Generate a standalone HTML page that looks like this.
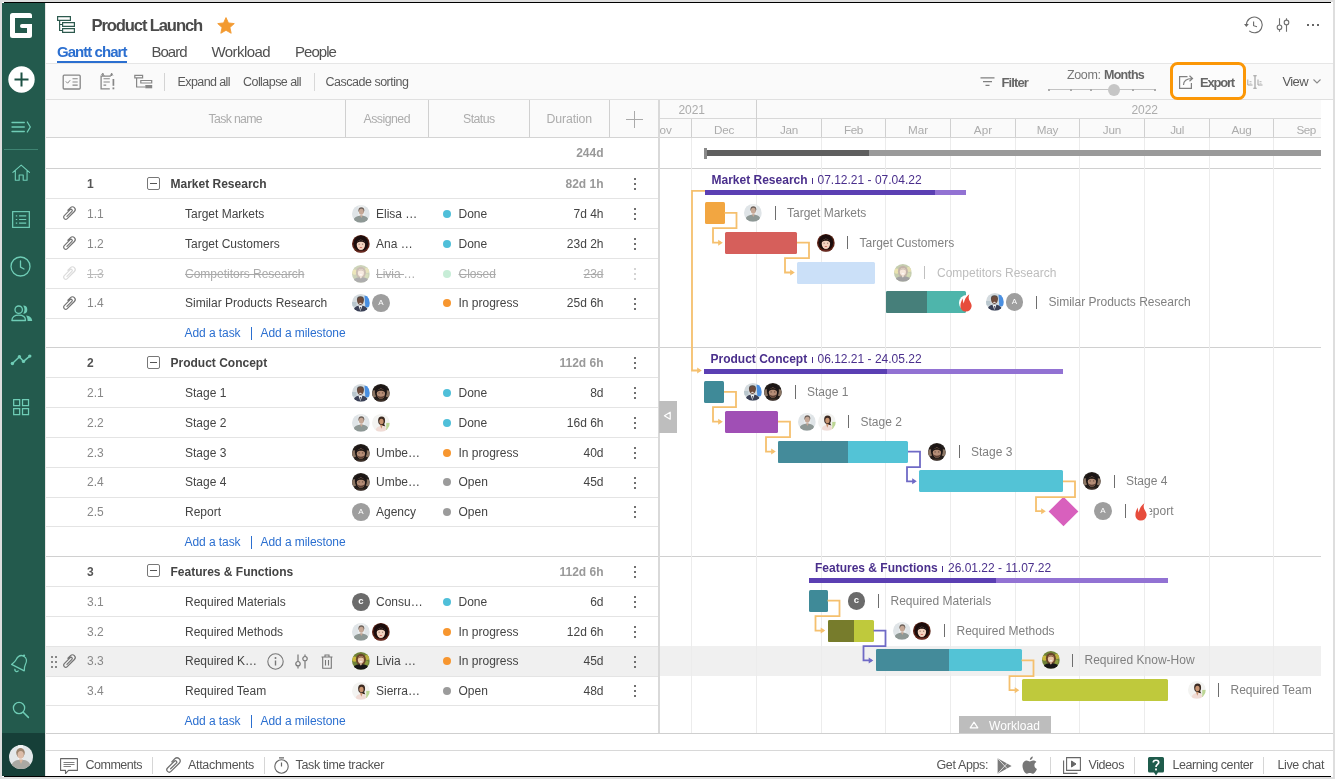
<!DOCTYPE html><html><head><meta charset="utf-8"><title>Product Launch</title><style>
*{box-sizing:border-box;margin:0;padding:0}
html,body{width:1335px;height:779px;overflow:hidden}
body{background:#dedede;font-family:"Liberation Sans",sans-serif;position:relative;color:#444}
.abs{position:absolute}
.t{position:absolute;white-space:nowrap;line-height:1;transform-origin:0 50%}
#app{position:absolute;left:2px;top:2px;width:1331px;height:775px;background:#fff;overflow:hidden}#app:before,#app:after{content:'';position:absolute;left:2px;width:1327px;height:1px;background:#000}#app:before{top:0}#app:after{bottom:0}
#page{position:absolute;left:0;top:0;width:1335px;height:779px;overflow:hidden;will-change:transform}
.hl{position:absolute;height:1px;background:#e3e3e3}
.vl{position:absolute;width:1px;background:#dcdcdc}
svg{position:absolute;overflow:visible}
</style></head><body><div id="app"></div><div id="page"><svg width="0" height="0" style="left:0;top:0"><defs><filter id="bl" x="-20%" y="-20%" width="140%" height="140%"><feGaussianBlur stdDeviation="0.550"/></filter></defs></svg><div class="abs" style="left:2px;top:3px;width:43px;height:773px;background:#235a4d;"></div><div class="abs" style="left:2px;top:733px;width:43px;height:43px;background:#163f38;"></div><svg style="left:10px;top:13px" width="22" height="25" viewBox="0 0 22 25"><path d="M2.5 0H19.5A2.5 2.5 0 0 1 22 2.500V5H5V20H17V15H12A2 2 0 0 1 10 13A2 2 0 0 1 12 11H22V22.5A2.5 2.5 0 0 1 19.5 25H2.5A2.500 2.500 0 0 1 0 22.500V2.500A2.500 2.500 0 0 1 2.500 0Z" fill="#fff"/></svg><svg style="left:8px;top:66px" width="27" height="27" viewBox="0 0 27 27"><circle cx="13.5" cy="13.5" r="13.2" fill="#fff"/><path d="M13.5 6.500V20.500M6.500 13.500H20.500" stroke="#1d5144" stroke-width="2" fill="none"/></svg><svg style="left:11px;top:120px" width="21" height="14" viewBox="0 0 21 14"><path d="M1 2.500H13.300M1 7H13.300M1 11.500H13.300M16.300 2L19.300 7L16.300 12" stroke="#6fcdb6" stroke-width="1.300" fill="none" stroke-linecap="round" stroke-linejoin="round"/></svg><div class="abs" style="left:4px;top:149px;width:34px;height:1px;background:#3e8472;"></div><svg style="left:11.700px;top:163.500px" width="18.400" height="17.600" viewBox="0 0 21 20"><path d="M1 9.500L10.500 1.200L20 9.500M3.800 7.500V18.500H8.200V12.500H12.800V18.500H17.200V7.500" stroke="#6fcdb6" stroke-width="1.300" fill="none" stroke-linejoin="round" stroke-linecap="round"/></svg><svg style="left:12px;top:210.500px" width="18" height="17" viewBox="0 0 19 19" preserveAspectRatio="none"><rect x="0.700" y="0.700" width="17.600" height="17.600" stroke="#6fcdb6" stroke-width="1.300" fill="none"/><path d="M4 5.500H5.500M7.500 5.500H15M4 9.500H5.500M7.500 9.500H15M4 13.500H5.500M7.500 13.500H15" stroke="#6fcdb6" stroke-width="1.300"/></svg><svg style="left:10.400px;top:256.200px" width="21" height="21" viewBox="0 0 21 21"><circle cx="10.500" cy="10.500" r="9.500" stroke="#6fcdb6" stroke-width="1.300" fill="none"/><path d="M10.500 5V11L14 13" stroke="#6fcdb6" stroke-width="1.300" fill="none" stroke-linecap="round"/></svg><svg style="left:10.500px;top:305px" width="22" height="17" viewBox="0 0 22 17"><circle cx="7.700" cy="4.700" r="3.700" stroke="#6fcdb6" stroke-width="1.300" fill="none"/><path d="M0.900 15.500C0.900 12 3.500 10.200 7.700 10.200S14.500 12 14.500 15.500Z" stroke="#6fcdb6" stroke-width="1.300" fill="none" stroke-linejoin="round"/><path d="M12.200 0.600A4.100 4.100 0 0 1 12.200 8.800A8 8 0 0 0 12.200 0.600Z" fill="#6fcdb6"/><path d="M15 10.400C18.800 10.800 21.200 12.600 21.200 16.100H16.600C16.600 13.800 16.100 11.800 15 10.400Z" fill="#6fcdb6"/></svg><svg style="left:10px;top:352px" width="23" height="15" viewBox="0 0 23 15"><path d="M2.400 11.500L9.400 4.800L13.500 9.400L19.800 4.100" stroke="#6fcdb6" stroke-width="1.500" fill="none"/><circle cx="2.400" cy="11.500" r="1.700" fill="#6fcdb6"/><circle cx="9.400" cy="4.800" r="1.700" fill="#6fcdb6"/><circle cx="13.500" cy="9.400" r="1.700" fill="#6fcdb6"/><circle cx="19.800" cy="4.100" r="1.700" fill="#6fcdb6"/></svg><svg style="left:13px;top:399.200px" width="16.200" height="16.200" viewBox="0 0 17 17"><path d="M0.700 0.700H7V7H0.700ZM10 0.700H16.300V7H10ZM0.700 10H7V16.300H0.700ZM10 10H16.300V16.300H10Z" stroke="#6fcdb6" stroke-width="1.300" fill="none"/></svg><svg style="left:10.500px;top:653px" width="19" height="20" viewBox="0 0 20 21"><g transform="rotate(27 10 10)"><path d="M10 2.500C6 2.500 4.500 6 4.500 9.500C4.500 13 2.500 15 2.500 16H17.500C17.500 15 15.500 13 15.500 9.500C15.500 6 14 2.500 10 2.500Z" stroke="#6fcdb6" stroke-width="1.300" fill="none" stroke-linejoin="round"/><circle cx="10" cy="1.800" r="1.200" fill="#6fcdb6"/><path d="M8 18.500A2 2 0 0 0 12 18.500" stroke="#6fcdb6" stroke-width="1.300" fill="none"/></g></svg><svg style="left:12.300px;top:701.300px" width="17.800" height="17.800" viewBox="0 0 19 19"><circle cx="7.500" cy="7.500" r="6" stroke="#6fcdb6" stroke-width="1.400" fill="none"/><path d="M12 12L17.500 17.500" stroke="#6fcdb6" stroke-width="1.600" stroke-linecap="round"/></svg><svg style="left:9px;top:745px" width="24" height="24" viewBox="0 0 24 24"><defs><clipPath id="cu"><circle cx="12" cy="12" r="12"/></clipPath></defs><g clip-path="url(#cu)"><rect width="24" height="24" fill="#e4e8ea"/><g filter="url(#bl)"><rect x="9" y="0" width="5" height="14" fill="#f4f5f6"/><ellipse cx="11.500" cy="7.800" rx="4.300" ry="4.800" fill="#9c8570"/><ellipse cx="11.700" cy="9.800" rx="3.100" ry="3.900" fill="#dcbca8"/><path d="M2 24C2 17 6 14.500 12 15C18 14.500 22 17 22 24Z" fill="#aaa9a3"/><path d="M10 14.500L12 19L14 14.500Z" fill="#d9b59c"/></g></g></svg><div class="abs" style="left:45px;top:3px;width:1px;height:773px;background:#e6e6e6;"></div><svg style="left:56.600px;top:16px" width="19" height="17" viewBox="0 0 19 17"><path d="M0.600 0.600H13.400V4.400H0.600ZM5.600 6.600H17.400V10.400H5.600ZM5.600 12.600H17.400V16.400H5.600ZM2.600 4.400V14.500H5.600M2.600 8.500H5.600" stroke="#2d5a4e" stroke-width="1.200" fill="none"/></svg><span class="t" style="left:91.5px;top:17.9px;font-size:16.6px;font-weight:700;color:#4a4a4a;letter-spacing:-1.129px;">Product Launch</span><svg style="left:216.500px;top:16.500px" width="18" height="17" viewBox="0 0 24 23"><path d="M12 0.800L15.300 8L23.200 8.900L17.300 14.200L19 22L12 18L5 22L6.700 14.200L0.800 8.900L8.700 8Z" fill="#f39a30" stroke="#f39a30" stroke-width="1.200" stroke-linejoin="round"/></svg><span class="t" style="left:57px;top:44px;font-size:15px;font-weight:700;color:#2b6fd0;letter-spacing:-0.956px;">Gantt chart</span><span class="t" style="left:151.5px;top:44px;font-size:15px;font-weight:400;color:#505050;letter-spacing:-1.006px;">Board</span><span class="t" style="left:211.5px;top:44px;font-size:15px;font-weight:400;color:#505050;letter-spacing:-0.574px;">Workload</span><span class="t" style="left:295px;top:44px;font-size:15px;font-weight:400;color:#505050;letter-spacing:-0.953px;">People</span><div class="abs" style="left:57px;top:61px;width:70px;height:2px;background:#2b6fd0;"></div><svg style="left:1243px;top:15px" width="20" height="20" viewBox="0 0 20 20"><path d="M3.40 9.90A7.9 7.9 0 1 1 6.22 15.95" stroke="#6a6a6a" stroke-width="1.100" fill="none"/><path d="M1.00 9.00H5.80L3.40 11.90Z" fill="#6a6a6a"/><path d="M10.60 6.50V10.70L14.00 11.80" stroke="#6a6a6a" stroke-width="1.100" fill="none"/></svg><svg style="left:1276px;top:18px" width="14" height="15" viewBox="0 0 14 15"><path d="M3.500 0.300V6.900M3.500 11.700V13.800M10.500 0.300V2M10.500 6.800V13.800" stroke="#707070" stroke-width="1.100"/><circle cx="3.500" cy="9.300" r="2.300" stroke="#707070" stroke-width="1.100" fill="#fff"/><circle cx="10.500" cy="4.400" r="2.300" stroke="#707070" stroke-width="1.100" fill="#fff"/></svg><div class="abs" style="left:1307px;top:24px;width:2px;height:2px;background:#666;"></div><div class="abs" style="left:1312px;top:24px;width:2px;height:2px;background:#666;"></div><div class="abs" style="left:1317px;top:24px;width:2px;height:2px;background:#666;"></div><div class="abs" style="left:46px;top:63px;width:1287px;height:37px;background:#fafafa;border-top:1px solid #e6e6e6;border-bottom:1px solid #e0e0e0"></div><svg style="left:62px;top:74px" width="20" height="17" viewBox="0 0 20 17"><rect x="1.200" y="1.200" width="17" height="13.800" rx="1" stroke="#878787" stroke-width="1.300" fill="none"/><path d="M3.800 7.400L5.600 9.200L8.200 6.200" stroke="#878787" stroke-width="1" fill="none"/><path d="M10.500 4.800H15.700M10.500 8H15.700M10.500 11.100H15.700" stroke="#878787" stroke-width="1.100" fill="none"/></svg><svg style="left:100px;top:72px" width="16" height="19" viewBox="0 0 16 19"><path d="M10.800 4.100H1.100V16.800H9.800M2.800 1.200V4.100M11.600 1.200V4.100" stroke="#878787" stroke-width="1.300" fill="none"/><path d="M1.100 2.800L2.800 1.200L4.400 4.100M10 4.100L11.600 1.200L13 3.500" stroke="#878787" stroke-width="0.800" fill="none"/><path d="M3.500 6.800H9.800M3.500 10H9.800M3.500 13.100H6.200" stroke="#878787" stroke-width="1.100" fill="none"/><path d="M13.400 7V13.800" stroke="#878787" stroke-width="1.700"/><rect x="12.500" y="15.400" width="1.800" height="1.900" fill="#878787"/></svg><svg style="left:134px;top:74px" width="19" height="16" viewBox="0 0 19 16"><path d="M0.800 1.300H8.600V3.900H0.800ZM6.800 6.500H17.700V9H6.800ZM2.600 3.900V13H11.300" stroke="#878787" stroke-width="1.200" fill="none"/><rect x="11.300" y="11" width="6.900" height="3.300" fill="#878787"/></svg><div class="abs" style="left:164px;top:73px;width:1px;height:18px;background:#d4d4d4;"></div><span class="t" style="left:177.5px;top:75.95px;font-size:12.5px;font-weight:400;color:#5a5a5a;letter-spacing:-0.588px;">Expand all</span><span class="t" style="left:243px;top:75.95px;font-size:12.5px;font-weight:400;color:#5a5a5a;letter-spacing:-0.552px;">Collapse all</span><div class="abs" style="left:313.5px;top:73px;width:1px;height:18px;background:#d8d8d8;"></div><span class="t" style="left:325.5px;top:75.95px;font-size:12.5px;font-weight:400;color:#5a5a5a;letter-spacing:-0.489px;">Cascade sorting</span><svg style="left:979.500px;top:76.500px" width="15" height="10" viewBox="0 0 15 10"><path d="M0.500 0.800H14.500M3 4.600H12M5.500 8.400H9.500" stroke="#808080" stroke-width="1.200"/></svg><span class="t" style="left:1001.5px;top:75.8px;font-size:13px;font-weight:700;color:#666;letter-spacing:-0.883px;">Filter</span><span class="t" style="left:1067px;top:68.55px;font-size:12.5px;font-weight:400;color:#777;letter-spacing:-0.388px;">Zoom:</span><span class="t" style="left:1104px;top:68.55px;font-size:12.5px;font-weight:700;color:#666;letter-spacing:-0.740px;">Months</span><div class="abs" style="left:1049px;top:89px;width:106px;height:1px;background:#c4c4c4;"></div><div class="abs" style="left:1048px;top:88.5px;width:2px;height:2px;background:#aaa;"></div><div class="abs" style="left:1069.5px;top:88.5px;width:2px;height:2px;background:#aaa;"></div><div class="abs" style="left:1090px;top:88.5px;width:2px;height:2px;background:#aaa;"></div><div class="abs" style="left:1132px;top:88.5px;width:2px;height:2px;background:#aaa;"></div><div class="abs" style="left:1153.5px;top:88.5px;width:2px;height:2px;background:#aaa;"></div><div class="abs" style="left:1108px;top:83.500px;width:12px;height:12px;border-radius:50%;background:#c6c6c6"></div><div class="abs" style="left:1170px;top:62px;width:76px;height:38px;border:3.600px solid #fb9707;border-radius:7.500px;background:#fcfcfc"></div><svg style="left:1179px;top:75px" width="15" height="14" viewBox="0 0 15 14"><path d="M8.500 1.600H0.600V13.400H12.400V8" stroke="#808080" stroke-width="1.200" fill="none"/><path d="M4.500 10C4.500 6 7.500 3.500 13 3.500M10.500 0.800L13.500 3.500L10.500 6.300" stroke="#808080" stroke-width="1.200" fill="none"/></svg><span class="t" style="left:1200px;top:75.8px;font-size:13px;font-weight:700;color:#666;letter-spacing:-1.195px;">Export</span><svg style="left:1247px;top:75px" width="16" height="14" viewBox="0 0 16 14"><path d="M8 0.800V13.200M6.300 0.800H9.700M6.300 13.200H9.700" stroke="#9a9a9a" stroke-width="1.100" fill="none"/><path d="M0.800 4.500V10H5.500M11 4.500V10H15.500" stroke="#a4a4a4" stroke-width="1" fill="none"/><path d="M2.500 6.500H4.500M2.500 8.200H4.500M12.500 6.500H14.500M12.500 8.200H14.500" stroke="#b4b4b4" stroke-width="0.800"/></svg><span class="t" style="left:1282.5px;top:75px;font-size:13px;font-weight:400;color:#5a5a5a;letter-spacing:-0.613px;">View</span><svg style="left:1313px;top:79px" width="8" height="5" viewBox="0 0 8 5"><path d="M0.500 0.500L4 4L7.500 0.500" stroke="#8a8a8a" stroke-width="1.100" fill="none"/></svg><div class="abs" style="left:46px;top:100px;width:1275px;height:38px;background:#fafafa;"></div><div class="abs" style="left:46px;top:137px;width:1275px;height:1px;background:#d4d4d4;"></div><div class="abs" style="left:345px;top:100px;width:1px;height:37px;background:#d0d0d0;"></div><div class="abs" style="left:428px;top:100px;width:1px;height:37px;background:#d0d0d0;"></div><div class="abs" style="left:529px;top:100px;width:1px;height:37px;background:#d0d0d0;"></div><div class="abs" style="left:609px;top:100px;width:1px;height:37px;background:#d0d0d0;"></div><span class="t" style="left:208.5px;top:112.85px;font-size:12.3px;font-weight:400;color:#acacac;letter-spacing:-0.663px;">Task name</span><span class="t" style="left:363.5px;top:112.85px;font-size:12.3px;font-weight:400;color:#acacac;letter-spacing:-0.512px;">Assigned</span><span class="t" style="left:463px;top:112.85px;font-size:12.3px;font-weight:400;color:#acacac;letter-spacing:-0.562px;">Status</span><span class="t" style="left:546.5px;top:112.85px;font-size:12.3px;font-weight:400;color:#acacac;letter-spacing:-0.123px;">Duration</span><svg style="left:626px;top:111px" width="17" height="17" viewBox="0 0 17 17"><path d="M8.500 0V17M0 8.500H17" stroke="#aaa" stroke-width="1"/></svg><div class="abs" style="left:660px;top:118px;width:661px;height:1px;background:#d8d8d8;"></div><div class="abs" style="left:756px;top:100px;width:1px;height:19px;background:#d0d0d0;"></div><span class="t" style="left:678.5px;top:104px;font-size:12px;font-weight:400;color:#acacac;letter-spacing:-0.051px;">2021</span><span class="t" style="left:1131.5px;top:104px;font-size:12px;font-weight:400;color:#acacac;letter-spacing:-0.051px;">2022</span><div class="abs" style="left:691px;top:119px;width:1px;height:18px;background:#d0d0d0;"></div><div class="abs" style="left:756px;top:119px;width:1px;height:18px;background:#d0d0d0;"></div><div class="abs" style="left:821px;top:119px;width:1px;height:18px;background:#d0d0d0;"></div><div class="abs" style="left:885px;top:119px;width:1px;height:18px;background:#d0d0d0;"></div><div class="abs" style="left:950px;top:119px;width:1px;height:18px;background:#d0d0d0;"></div><div class="abs" style="left:1015px;top:119px;width:1px;height:18px;background:#d0d0d0;"></div><div class="abs" style="left:1079px;top:119px;width:1px;height:18px;background:#d0d0d0;"></div><div class="abs" style="left:1144px;top:119px;width:1px;height:18px;background:#d0d0d0;"></div><div class="abs" style="left:1209px;top:119px;width:1px;height:18px;background:#d0d0d0;"></div><div class="abs" style="left:1273px;top:119px;width:1px;height:18px;background:#d0d0d0;"></div><span class="t" style="left:713.895px;top:124.15px;font-size:11.7px;font-weight:400;color:#acacac;letter-spacing:-0.196px;">Dec</span><span class="t" style="left:780.07px;top:124.15px;font-size:11.7px;font-weight:400;color:#acacac;letter-spacing:-0.333px;">Jan</span><span class="t" style="left:844.1px;top:124.15px;font-size:11.7px;font-weight:400;color:#acacac;letter-spacing:-0.447px;">Feb</span><span class="t" style="left:907.895px;top:124.15px;font-size:11.7px;font-weight:400;color:#acacac;letter-spacing:0.023px;">Mar</span><span class="t" style="left:973.835px;top:124.15px;font-size:11.7px;font-weight:400;color:#acacac;letter-spacing:0.042px;">Apr</span><span class="t" style="left:1036.69px;top:124.15px;font-size:11.7px;font-weight:400;color:#acacac;letter-spacing:-0.158px;">May</span><span class="t" style="left:1102.84px;top:124.15px;font-size:11.7px;font-weight:400;color:#acacac;letter-spacing:-0.176px;">Jun</span><span class="t" style="left:1170.18px;top:124.15px;font-size:11.7px;font-weight:400;color:#acacac;letter-spacing:-0.441px;">Jul</span><span class="t" style="left:1231.39px;top:124.15px;font-size:11.7px;font-weight:400;color:#acacac;letter-spacing:-0.196px;">Aug</span><span class="t" style="left:1296.5px;top:124.15px;font-size:11.7px;font-weight:400;color:#acacac;letter-spacing:-0.509px;">Sep</span><div class="abs" style="left:660px;top:119px;width:30px;height:18px;overflow:hidden"><span class="t" style="left:-9px;top:5.15px;font-size:11.7px;font-weight:400;color:#acacac;letter-spacing:0.068px;">Nov</span></div><div class="abs" style="left:46px;top:646px;width:1275px;height:30px;background:#f0f0f0;"></div><div class="abs" style="left:46px;top:168px;width:1275px;height:1px;background:#d0d0d0;"></div><div class="abs" style="left:46px;top:198px;width:614px;height:1px;background:#e4e4e4;"></div><div class="abs" style="left:46px;top:228px;width:614px;height:1px;background:#e4e4e4;"></div><div class="abs" style="left:46px;top:258px;width:614px;height:1px;background:#e4e4e4;"></div><div class="abs" style="left:46px;top:288px;width:614px;height:1px;background:#e4e4e4;"></div><div class="abs" style="left:46px;top:318px;width:614px;height:1px;background:#e4e4e4;"></div><div class="abs" style="left:46px;top:347px;width:1275px;height:1px;background:#d0d0d0;"></div><div class="abs" style="left:46px;top:377px;width:614px;height:1px;background:#e4e4e4;"></div><div class="abs" style="left:46px;top:407px;width:614px;height:1px;background:#e4e4e4;"></div><div class="abs" style="left:46px;top:437px;width:614px;height:1px;background:#e4e4e4;"></div><div class="abs" style="left:46px;top:467px;width:614px;height:1px;background:#e4e4e4;"></div><div class="abs" style="left:46px;top:497px;width:614px;height:1px;background:#e4e4e4;"></div><div class="abs" style="left:46px;top:526px;width:614px;height:1px;background:#e4e4e4;"></div><div class="abs" style="left:46px;top:556px;width:1275px;height:1px;background:#d0d0d0;"></div><div class="abs" style="left:46px;top:586px;width:614px;height:1px;background:#e4e4e4;"></div><div class="abs" style="left:46px;top:616px;width:614px;height:1px;background:#e4e4e4;"></div><div class="abs" style="left:46px;top:646px;width:614px;height:1px;background:#e4e4e4;"></div><div class="abs" style="left:46px;top:676px;width:614px;height:1px;background:#e4e4e4;"></div><div class="abs" style="left:46px;top:705px;width:614px;height:1px;background:#e4e4e4;"></div><div class="abs" style="left:46px;top:733px;width:1287px;height:1px;background:#cfcfcf;"></div><div class="abs" style="left:46px;top:750px;width:1287px;height:1px;background:#d8d8d8;"></div><div class="abs" style="left:691px;top:138px;width:1px;height:595px;background:#ececec;"></div><div class="abs" style="left:756px;top:138px;width:1px;height:595px;background:#ececec;"></div><div class="abs" style="left:821px;top:138px;width:1px;height:595px;background:#ececec;"></div><div class="abs" style="left:885px;top:138px;width:1px;height:595px;background:#ececec;"></div><div class="abs" style="left:950px;top:138px;width:1px;height:595px;background:#ececec;"></div><div class="abs" style="left:1015px;top:138px;width:1px;height:595px;background:#ececec;"></div><div class="abs" style="left:1079px;top:138px;width:1px;height:595px;background:#ececec;"></div><div class="abs" style="left:1144px;top:138px;width:1px;height:595px;background:#ececec;"></div><div class="abs" style="left:1209px;top:138px;width:1px;height:595px;background:#ececec;"></div><div class="abs" style="left:1273px;top:138px;width:1px;height:595px;background:#ececec;"></div><div class="abs" style="left:658px;top:100px;width:2px;height:633px;background:#d9d9d9;"></div><span class="t" style="right:731.5px;top:147px;font-size:12px;font-weight:700;color:#999;">244d</span><span class="t" style="left:87px;top:178.017px;font-size:12px;font-weight:700;color:#555;">1</span><div class="abs" style="left:147px;top:177px;width:13px;height:13px;border:1px solid #777;border-radius:2px;background:#fff"></div><div class="abs" style="left:150px;top:183px;width:7px;height:1px;background:#555;"></div><span class="t" style="left:170.5px;top:178.017px;font-size:12px;font-weight:700;color:#444;">Market Research</span><span class="t" style="right:731.5px;top:178.017px;font-size:12px;font-weight:700;color:#999;">82d 1h</span><div class="abs" style="left:633.5px;top:178px;width:2px;height:2px;background:#707070;"></div><div class="abs" style="left:633.5px;top:183px;width:2px;height:2px;background:#707070;"></div><div class="abs" style="left:633.5px;top:188px;width:2px;height:2px;background:#707070;"></div><span class="t" style="left:87px;top:207.852px;font-size:12px;font-weight:400;color:#888;">1.1</span><span class="t" style="left:185px;top:207.852px;font-size:12px;font-weight:400;color:#444;">Target Markets</span><svg style="left:60.2px;top:204.452px" width="18" height="18" viewBox="0 0 18 18"><g transform="translate(9 9) scale(1) rotate(45) translate(-3.400 -8.200)"><path d="M0.700 7V3.300A2.700 2.700 0 0 1 6.100 3.300V13.400A2.100 2.100 0 0 1 1.900 13.400V5A1.200 1.200 0 0 1 4.300 5V12" stroke="#747474" stroke-width="1.25" fill="none" stroke-linecap="round"/></g></svg><svg style="left:352.1px;top:204.952px;" width="17.8" height="17.8" viewBox="0 0 20 20"><defs><clipPath id="av1"><circle cx="10" cy="10" r="10"/></clipPath></defs><g clip-path="url(#av1)"><rect width="20" height="20" fill="#dfe4e7"/><g filter="url(#bl)"><rect x="7" y="0" width="7" height="20" fill="#eceff0"/><ellipse cx="10.500" cy="5.800" rx="3.300" ry="3.300" fill="#6e635c"/><ellipse cx="10.500" cy="7.600" rx="2.700" ry="3.300" fill="#c6a896"/><path d="M1 20C1 14.500 5 12 10.500 12.200C16 12 19 14.500 19 20Z" fill="#8e9895"/><path d="M8.800 11.500L10.500 14.500L12.200 11.500Z" fill="#c6a896"/></g></g></svg><span class="t" style="left:376px;top:207.852px;font-size:12px;font-weight:400;color:#444;">Elisa …</span><div class="abs" style="left:442.500px;top:209.852px;width:8px;height:8px;border-radius:50%;background:#4fbfd9;"></div><span class="t" style="left:458.5px;top:207.852px;font-size:12px;font-weight:400;color:#444;">Done</span><span class="t" style="right:731.5px;top:207.852px;font-size:12px;font-weight:400;color:#444;">7d 4h</span><div class="abs" style="left:633.5px;top:208px;width:2px;height:2px;background:#707070;"></div><div class="abs" style="left:633.5px;top:213px;width:2px;height:2px;background:#707070;"></div><div class="abs" style="left:633.5px;top:218px;width:2px;height:2px;background:#707070;"></div><span class="t" style="left:87px;top:237.687px;font-size:12px;font-weight:400;color:#888;">1.2</span><span class="t" style="left:185px;top:237.687px;font-size:12px;font-weight:400;color:#444;">Target Customers</span><svg style="left:60.2px;top:234.287px" width="18" height="18" viewBox="0 0 18 18"><g transform="translate(9 9) scale(1) rotate(45) translate(-3.400 -8.200)"><path d="M0.700 7V3.300A2.700 2.700 0 0 1 6.100 3.300V13.400A2.100 2.100 0 0 1 1.900 13.400V5A1.200 1.200 0 0 1 4.300 5V12" stroke="#747474" stroke-width="1.25" fill="none" stroke-linecap="round"/></g></svg><svg style="left:352.1px;top:234.787px;" width="17.8" height="17.8" viewBox="0 0 20 20"><defs><clipPath id="av2"><circle cx="10" cy="10" r="10"/></clipPath></defs><g clip-path="url(#av2)"><rect width="20" height="20" fill="#5a2216"/><g filter="url(#bl)"><ellipse cx="10" cy="9.500" rx="8.300" ry="9" fill="#1b0d0a"/><ellipse cx="10" cy="11" rx="4.700" ry="5.800" fill="#f3d2bf"/><path d="M4.800 9.500C5.500 4.500 14.500 4.500 15.200 9.500C13 6.800 7 6.800 4.800 9.500Z" fill="#1b0d0a"/><ellipse cx="8" cy="10.200" rx="0.800" ry="0.400" fill="#3a2018"/><ellipse cx="12" cy="10.200" rx="0.800" ry="0.400" fill="#3a2018"/><ellipse cx="10" cy="14" rx="1.500" ry="0.600" fill="#cf6a62"/><path d="M3 20C4 17.500 7 17 10 17.500C13 17 16 17.500 17 20Z" fill="#6b2c22"/></g></g></svg><span class="t" style="left:376px;top:237.687px;font-size:12px;font-weight:400;color:#444;">Ana …</span><div class="abs" style="left:442.500px;top:239.687px;width:8px;height:8px;border-radius:50%;background:#4fbfd9;"></div><span class="t" style="left:458.5px;top:237.687px;font-size:12px;font-weight:400;color:#444;">Done</span><span class="t" style="right:731.5px;top:237.687px;font-size:12px;font-weight:400;color:#444;">23d 2h</span><div class="abs" style="left:633.5px;top:238px;width:2px;height:2px;background:#707070;"></div><div class="abs" style="left:633.5px;top:243px;width:2px;height:2px;background:#707070;"></div><div class="abs" style="left:633.5px;top:248px;width:2px;height:2px;background:#707070;"></div><span class="t" style="left:87px;top:267.522px;font-size:12px;font-weight:400;color:#bbb;text-decoration:line-through;">1.3</span><span class="t" style="left:185px;top:267.522px;font-size:12px;font-weight:400;color:#aaa;text-decoration:line-through;">Competitors Research</span><svg style="left:60.2px;top:264.123px" width="18" height="18" viewBox="0 0 18 18"><g transform="translate(9 9) scale(1) rotate(45) translate(-3.400 -8.200)"><path d="M0.700 7V3.300A2.700 2.700 0 0 1 6.100 3.300V13.400A2.100 2.100 0 0 1 1.900 13.400V5A1.200 1.200 0 0 1 4.300 5V12" stroke="#dcdcdc" stroke-width="1.25" fill="none" stroke-linecap="round"/></g></svg><svg style="left:352.1px;top:264.623px;opacity:0.35;" width="17.8" height="17.8" viewBox="0 0 20 20"><defs><clipPath id="av3"><circle cx="10" cy="10" r="10"/></clipPath></defs><g clip-path="url(#av3)"><rect width="20" height="20" fill="#6f8238"/><g filter="url(#bl)"><circle cx="3" cy="8" r="3" fill="#c9b83a"/><circle cx="17" cy="6" r="3" fill="#b9b040"/><circle cx="16" cy="12" r="2.500" fill="#8fa040"/><ellipse cx="10" cy="8.500" rx="5.600" ry="6.500" fill="#6b4429"/><ellipse cx="10" cy="8.800" rx="3.400" ry="4.300" fill="#e9c5a6"/><path d="M6.600 7.500C7.500 3.800 12.500 3.800 13.400 7.500C12 5.800 8 5.800 6.600 7.500Z" fill="#7a5030"/><ellipse cx="10" cy="11" rx="1.500" ry="0.600" fill="#fff"/><path d="M0.500 20C0.500 15 5 13.600 10 14C15 13.600 19.500 15 19.500 20Z" fill="#171717"/><path d="M8.500 13L10 15.500L11.500 13Z" fill="#e9c5a6"/></g></g></svg><span class="t" style="left:376px;top:267.522px;font-size:12px;font-weight:400;color:#aaa;text-decoration:line-through;white-space:pre;">Livia </span><span class="t" style="left:403.5px;top:267.522px;font-size:12px;font-weight:400;color:#aaa;">…</span><div class="abs" style="left:442.500px;top:269.522px;width:8px;height:8px;border-radius:50%;background:#8fdcb0;opacity:.5;"></div><span class="t" style="left:458.5px;top:267.522px;font-size:12px;font-weight:400;color:#aaa;text-decoration:line-through;">Closed</span><span class="t" style="right:731.5px;top:267.522px;font-size:12px;font-weight:400;color:#aaa;text-decoration:line-through;">23d</span><div class="abs" style="left:633.5px;top:268px;width:2px;height:2px;background:#d4d4d4;"></div><div class="abs" style="left:633.5px;top:273px;width:2px;height:2px;background:#d4d4d4;"></div><div class="abs" style="left:633.5px;top:278px;width:2px;height:2px;background:#d4d4d4;"></div><span class="t" style="left:87px;top:297.358px;font-size:12px;font-weight:400;color:#888;">1.4</span><span class="t" style="left:185px;top:297.358px;font-size:12px;font-weight:400;color:#444;">Similar Products Research</span><svg style="left:60.2px;top:293.958px" width="18" height="18" viewBox="0 0 18 18"><g transform="translate(9 9) scale(1) rotate(45) translate(-3.400 -8.200)"><path d="M0.700 7V3.300A2.700 2.700 0 0 1 6.100 3.300V13.400A2.100 2.100 0 0 1 1.900 13.400V5A1.200 1.200 0 0 1 4.300 5V12" stroke="#747474" stroke-width="1.25" fill="none" stroke-linecap="round"/></g></svg><svg style="left:352.1px;top:294.458px;" width="17.8" height="17.8" viewBox="0 0 20 20"><defs><clipPath id="av4"><circle cx="10" cy="10" r="10"/></clipPath></defs><g clip-path="url(#av4)"><rect width="20" height="20" fill="#d3dade"/><g filter="url(#bl)"><path d="M14 2H20V15H15Z" fill="#4a8fe2"/><path d="M0 9H5V14H0Z" fill="#b9c7ce"/><ellipse cx="9.500" cy="6.200" rx="3.900" ry="3.600" fill="#4e4a48"/><ellipse cx="9.500" cy="8" rx="3.500" ry="4.300" fill="#6e4c3c"/><ellipse cx="9.500" cy="10.500" rx="1.600" ry="0.600" fill="#e8e0dc"/><path d="M1.500 20C1.500 15 5 13 9.500 13.200C14 13 18 15 18 20Z" fill="#3a4157"/><path d="M7.300 13.200L9.500 19.500L11.700 13.200Z" fill="#f2f2f4"/><path d="M9 14.500L9.500 19.500L10 14.500Z" fill="#2a2f45"/></g></g></svg><div class="abs" style="left:372.1px;top:294.458px;width:17.8px;height:17.8px;border-radius:50%;background:#9e9e9e;color:#fff;font-size:8px;font-weight:400;text-align:center;line-height:17.8px;">A</div><div class="abs" style="left:442.500px;top:299.358px;width:8px;height:8px;border-radius:50%;background:#f7962f;"></div><span class="t" style="left:458.5px;top:297.358px;font-size:12px;font-weight:400;color:#444;">In progress</span><span class="t" style="right:731.5px;top:297.358px;font-size:12px;font-weight:400;color:#444;">25d 6h</span><div class="abs" style="left:633.5px;top:298px;width:2px;height:2px;background:#707070;"></div><div class="abs" style="left:633.5px;top:303px;width:2px;height:2px;background:#707070;"></div><div class="abs" style="left:633.5px;top:308px;width:2px;height:2px;background:#707070;"></div><span class="t" style="left:184.5px;top:327.193px;font-size:12px;font-weight:400;color:#2b6fd0;letter-spacing:-0.070px;">Add a task</span><div class="abs" style="left:251px;top:327.193px;width:1px;height:13px;background:#2b6fd0;"></div><span class="t" style="left:260.5px;top:327.193px;font-size:12px;font-weight:400;color:#2b6fd0;letter-spacing:-0.071px;">Add a milestone</span><span class="t" style="left:87px;top:357.027px;font-size:12px;font-weight:700;color:#555;">2</span><div class="abs" style="left:147px;top:356px;width:13px;height:13px;border:1px solid #777;border-radius:2px;background:#fff"></div><div class="abs" style="left:150px;top:362px;width:7px;height:1px;background:#555;"></div><span class="t" style="left:170.5px;top:357.027px;font-size:12px;font-weight:700;color:#444;">Product Concept</span><span class="t" style="right:731.5px;top:357.027px;font-size:12px;font-weight:700;color:#999;">112d 6h</span><div class="abs" style="left:633.5px;top:357px;width:2px;height:2px;background:#707070;"></div><div class="abs" style="left:633.5px;top:362px;width:2px;height:2px;background:#707070;"></div><div class="abs" style="left:633.5px;top:367px;width:2px;height:2px;background:#707070;"></div><span class="t" style="left:87px;top:386.863px;font-size:12px;font-weight:400;color:#888;">2.1</span><span class="t" style="left:185px;top:386.863px;font-size:12px;font-weight:400;color:#444;">Stage 1</span><svg style="left:352.1px;top:383.963px;" width="17.8" height="17.8" viewBox="0 0 20 20"><defs><clipPath id="av6"><circle cx="10" cy="10" r="10"/></clipPath></defs><g clip-path="url(#av6)"><rect width="20" height="20" fill="#d3dade"/><g filter="url(#bl)"><path d="M14 2H20V15H15Z" fill="#4a8fe2"/><path d="M0 9H5V14H0Z" fill="#b9c7ce"/><ellipse cx="9.500" cy="6.200" rx="3.900" ry="3.600" fill="#4e4a48"/><ellipse cx="9.500" cy="8" rx="3.500" ry="4.300" fill="#6e4c3c"/><ellipse cx="9.500" cy="10.500" rx="1.600" ry="0.600" fill="#e8e0dc"/><path d="M1.500 20C1.500 15 5 13 9.500 13.200C14 13 18 15 18 20Z" fill="#3a4157"/><path d="M7.300 13.200L9.500 19.500L11.700 13.200Z" fill="#f2f2f4"/><path d="M9 14.500L9.500 19.500L10 14.500Z" fill="#2a2f45"/></g></g></svg><svg style="left:372.1px;top:383.963px;" width="17.8" height="17.8" viewBox="0 0 20 20"><defs><clipPath id="av7"><circle cx="10" cy="10" r="10"/></clipPath></defs><g clip-path="url(#av7)"><rect width="20" height="20" fill="#241e1b"/><g filter="url(#bl)"><ellipse cx="2.500" cy="11" rx="2.500" ry="4" fill="#8a7464"/><ellipse cx="17.500" cy="11" rx="2.500" ry="4" fill="#8a7464"/><ellipse cx="10" cy="9" rx="6.800" ry="7.800" fill="#1c1613"/><ellipse cx="10" cy="10.800" rx="4.600" ry="5.800" fill="#b58d76"/><path d="M5 9.500C5.500 4.500 14.500 4.500 15 9.500C13 7 7 7 5 9.500Z" fill="#1c1613"/><path d="M5.600 12.500C6.500 18 13.500 18 14.400 12.500C12.500 15 7.500 15 5.600 12.500Z" fill="#5c4136"/><ellipse cx="8" cy="10" rx="0.900" ry="0.500" fill="#2a1c16"/><ellipse cx="12" cy="10" rx="0.900" ry="0.500" fill="#2a1c16"/><path d="M2 20C3 17.800 7 17.500 10 17.800C13 17.500 17 17.800 18 20Z" fill="#3a2e28"/></g></g></svg><div class="abs" style="left:442.500px;top:388.863px;width:8px;height:8px;border-radius:50%;background:#4fbfd9;"></div><span class="t" style="left:458.5px;top:386.863px;font-size:12px;font-weight:400;color:#444;">Done</span><span class="t" style="right:731.5px;top:386.863px;font-size:12px;font-weight:400;color:#444;">8d</span><div class="abs" style="left:633.5px;top:387px;width:2px;height:2px;background:#707070;"></div><div class="abs" style="left:633.5px;top:392px;width:2px;height:2px;background:#707070;"></div><div class="abs" style="left:633.5px;top:397px;width:2px;height:2px;background:#707070;"></div><span class="t" style="left:87px;top:416.698px;font-size:12px;font-weight:400;color:#888;">2.2</span><span class="t" style="left:185px;top:416.698px;font-size:12px;font-weight:400;color:#444;">Stage 2</span><svg style="left:352.1px;top:413.798px;" width="17.8" height="17.8" viewBox="0 0 20 20"><defs><clipPath id="av8"><circle cx="10" cy="10" r="10"/></clipPath></defs><g clip-path="url(#av8)"><rect width="20" height="20" fill="#dfe4e7"/><g filter="url(#bl)"><rect x="7" y="0" width="7" height="20" fill="#eceff0"/><ellipse cx="10.500" cy="5.800" rx="3.300" ry="3.300" fill="#6e635c"/><ellipse cx="10.500" cy="7.600" rx="2.700" ry="3.300" fill="#c6a896"/><path d="M1 20C1 14.500 5 12 10.500 12.200C16 12 19 14.500 19 20Z" fill="#8e9895"/><path d="M8.800 11.500L10.500 14.500L12.200 11.500Z" fill="#c6a896"/></g></g></svg><svg style="left:372.1px;top:413.798px;" width="17.8" height="17.8" viewBox="0 0 20 20"><defs><clipPath id="av9"><circle cx="10" cy="10" r="10"/></clipPath></defs><g clip-path="url(#av9)"><rect width="20" height="20" fill="#f3f3f1"/><g filter="url(#bl)"><ellipse cx="10.800" cy="7.600" rx="3.900" ry="4.700" fill="#3a2920"/><path d="M12 8L15 14L11 13Z" fill="#3a2920"/><ellipse cx="10.600" cy="8.400" rx="2.400" ry="3.100" fill="#c89470"/><path d="M4 20C4 15 7 13.600 10.500 13.800C14 13.600 17 15 17 20Z" fill="#f1dcd6"/><path d="M9 12.500L10.500 16.500L12 12.500Z" fill="#c89470"/><path d="M16 10H20V18H16Z" fill="#bcd694"/></g></g></svg><div class="abs" style="left:442.500px;top:418.698px;width:8px;height:8px;border-radius:50%;background:#4fbfd9;"></div><span class="t" style="left:458.5px;top:416.698px;font-size:12px;font-weight:400;color:#444;">Done</span><span class="t" style="right:731.5px;top:416.698px;font-size:12px;font-weight:400;color:#444;">16d 6h</span><div class="abs" style="left:633.5px;top:417px;width:2px;height:2px;background:#707070;"></div><div class="abs" style="left:633.5px;top:422px;width:2px;height:2px;background:#707070;"></div><div class="abs" style="left:633.5px;top:427px;width:2px;height:2px;background:#707070;"></div><span class="t" style="left:87px;top:446.532px;font-size:12px;font-weight:400;color:#888;">2.3</span><span class="t" style="left:185px;top:446.532px;font-size:12px;font-weight:400;color:#444;">Stage 3</span><svg style="left:352.1px;top:443.632px;" width="17.8" height="17.8" viewBox="0 0 20 20"><defs><clipPath id="av10"><circle cx="10" cy="10" r="10"/></clipPath></defs><g clip-path="url(#av10)"><rect width="20" height="20" fill="#241e1b"/><g filter="url(#bl)"><ellipse cx="2.500" cy="11" rx="2.500" ry="4" fill="#8a7464"/><ellipse cx="17.500" cy="11" rx="2.500" ry="4" fill="#8a7464"/><ellipse cx="10" cy="9" rx="6.800" ry="7.800" fill="#1c1613"/><ellipse cx="10" cy="10.800" rx="4.600" ry="5.800" fill="#b58d76"/><path d="M5 9.500C5.500 4.500 14.500 4.500 15 9.500C13 7 7 7 5 9.500Z" fill="#1c1613"/><path d="M5.600 12.500C6.500 18 13.500 18 14.400 12.500C12.500 15 7.500 15 5.600 12.500Z" fill="#5c4136"/><ellipse cx="8" cy="10" rx="0.900" ry="0.500" fill="#2a1c16"/><ellipse cx="12" cy="10" rx="0.900" ry="0.500" fill="#2a1c16"/><path d="M2 20C3 17.800 7 17.500 10 17.800C13 17.500 17 17.800 18 20Z" fill="#3a2e28"/></g></g></svg><span class="t" style="left:376px;top:446.532px;font-size:12px;font-weight:400;color:#444;">Umbe…</span><div class="abs" style="left:442.500px;top:448.532px;width:8px;height:8px;border-radius:50%;background:#f7962f;"></div><span class="t" style="left:458.5px;top:446.532px;font-size:12px;font-weight:400;color:#444;">In progress</span><span class="t" style="right:731.5px;top:446.532px;font-size:12px;font-weight:400;color:#444;">40d</span><div class="abs" style="left:633.5px;top:447px;width:2px;height:2px;background:#707070;"></div><div class="abs" style="left:633.5px;top:452px;width:2px;height:2px;background:#707070;"></div><div class="abs" style="left:633.5px;top:457px;width:2px;height:2px;background:#707070;"></div><span class="t" style="left:87px;top:476.368px;font-size:12px;font-weight:400;color:#888;">2.4</span><span class="t" style="left:185px;top:476.368px;font-size:12px;font-weight:400;color:#444;">Stage 4</span><svg style="left:352.1px;top:473.468px;" width="17.8" height="17.8" viewBox="0 0 20 20"><defs><clipPath id="av11"><circle cx="10" cy="10" r="10"/></clipPath></defs><g clip-path="url(#av11)"><rect width="20" height="20" fill="#241e1b"/><g filter="url(#bl)"><ellipse cx="2.500" cy="11" rx="2.500" ry="4" fill="#8a7464"/><ellipse cx="17.500" cy="11" rx="2.500" ry="4" fill="#8a7464"/><ellipse cx="10" cy="9" rx="6.800" ry="7.800" fill="#1c1613"/><ellipse cx="10" cy="10.800" rx="4.600" ry="5.800" fill="#b58d76"/><path d="M5 9.500C5.500 4.500 14.500 4.500 15 9.500C13 7 7 7 5 9.500Z" fill="#1c1613"/><path d="M5.600 12.500C6.500 18 13.500 18 14.400 12.500C12.500 15 7.500 15 5.600 12.500Z" fill="#5c4136"/><ellipse cx="8" cy="10" rx="0.900" ry="0.500" fill="#2a1c16"/><ellipse cx="12" cy="10" rx="0.900" ry="0.500" fill="#2a1c16"/><path d="M2 20C3 17.800 7 17.500 10 17.800C13 17.500 17 17.800 18 20Z" fill="#3a2e28"/></g></g></svg><span class="t" style="left:376px;top:476.368px;font-size:12px;font-weight:400;color:#444;">Umbe…</span><div class="abs" style="left:442.500px;top:478.368px;width:8px;height:8px;border-radius:50%;background:#9b9b9b;"></div><span class="t" style="left:458.5px;top:476.368px;font-size:12px;font-weight:400;color:#444;">Open</span><span class="t" style="right:731.5px;top:476.368px;font-size:12px;font-weight:400;color:#444;">45d</span><div class="abs" style="left:633.5px;top:477px;width:2px;height:2px;background:#707070;"></div><div class="abs" style="left:633.5px;top:482px;width:2px;height:2px;background:#707070;"></div><div class="abs" style="left:633.5px;top:487px;width:2px;height:2px;background:#707070;"></div><span class="t" style="left:87px;top:506.203px;font-size:12px;font-weight:400;color:#888;">2.5</span><span class="t" style="left:185px;top:506.203px;font-size:12px;font-weight:400;color:#444;">Report</span><div class="abs" style="left:352.1px;top:503.303px;width:17.8px;height:17.8px;border-radius:50%;background:#9e9e9e;color:#fff;font-size:8px;font-weight:400;text-align:center;line-height:17.8px;">A</div><span class="t" style="left:376px;top:506.203px;font-size:12px;font-weight:400;color:#444;">Agency</span><div class="abs" style="left:442.500px;top:508.203px;width:8px;height:8px;border-radius:50%;background:#9b9b9b;"></div><span class="t" style="left:458.5px;top:506.203px;font-size:12px;font-weight:400;color:#444;">Open</span><div class="abs" style="left:633.5px;top:506px;width:2px;height:2px;background:#707070;"></div><div class="abs" style="left:633.5px;top:511px;width:2px;height:2px;background:#707070;"></div><div class="abs" style="left:633.5px;top:516px;width:2px;height:2px;background:#707070;"></div><span class="t" style="left:184.5px;top:536.038px;font-size:12px;font-weight:400;color:#2b6fd0;letter-spacing:-0.070px;">Add a task</span><div class="abs" style="left:251px;top:536.038px;width:1px;height:13px;background:#2b6fd0;"></div><span class="t" style="left:260.5px;top:536.038px;font-size:12px;font-weight:400;color:#2b6fd0;letter-spacing:-0.071px;">Add a milestone</span><span class="t" style="left:87px;top:565.873px;font-size:12px;font-weight:700;color:#555;">3</span><div class="abs" style="left:147px;top:564px;width:13px;height:13px;border:1px solid #777;border-radius:2px;background:#fff"></div><div class="abs" style="left:150px;top:570px;width:7px;height:1px;background:#555;"></div><span class="t" style="left:170.5px;top:565.873px;font-size:12px;font-weight:700;color:#444;">Features &amp; Functions</span><span class="t" style="right:731.5px;top:565.873px;font-size:12px;font-weight:700;color:#999;">112d 6h</span><div class="abs" style="left:633.5px;top:566px;width:2px;height:2px;background:#707070;"></div><div class="abs" style="left:633.5px;top:571px;width:2px;height:2px;background:#707070;"></div><div class="abs" style="left:633.5px;top:576px;width:2px;height:2px;background:#707070;"></div><span class="t" style="left:87px;top:595.708px;font-size:12px;font-weight:400;color:#888;">3.1</span><span class="t" style="left:185px;top:595.708px;font-size:12px;font-weight:400;color:#444;">Required Materials</span><div class="abs" style="left:352.1px;top:592.808px;width:17.8px;height:17.8px;border-radius:50%;background:#6b6b6b;color:#fff;font-size:8px;font-weight:400;text-align:center;line-height:17.8px;"><b style="font-size:9.500px;position:relative;top:-0.800px">c</b></div><span class="t" style="left:376px;top:595.708px;font-size:12px;font-weight:400;color:#444;">Consu…</span><div class="abs" style="left:442.500px;top:597.708px;width:8px;height:8px;border-radius:50%;background:#4fbfd9;"></div><span class="t" style="left:458.5px;top:595.708px;font-size:12px;font-weight:400;color:#444;">Done</span><span class="t" style="right:731.5px;top:595.708px;font-size:12px;font-weight:400;color:#444;">6d</span><div class="abs" style="left:633.5px;top:596px;width:2px;height:2px;background:#707070;"></div><div class="abs" style="left:633.5px;top:601px;width:2px;height:2px;background:#707070;"></div><div class="abs" style="left:633.5px;top:606px;width:2px;height:2px;background:#707070;"></div><span class="t" style="left:87px;top:625.543px;font-size:12px;font-weight:400;color:#888;">3.2</span><span class="t" style="left:185px;top:625.543px;font-size:12px;font-weight:400;color:#444;">Required Methods</span><svg style="left:352.1px;top:622.643px;" width="17.8" height="17.8" viewBox="0 0 20 20"><defs><clipPath id="av14"><circle cx="10" cy="10" r="10"/></clipPath></defs><g clip-path="url(#av14)"><rect width="20" height="20" fill="#dfe4e7"/><g filter="url(#bl)"><rect x="7" y="0" width="7" height="20" fill="#eceff0"/><ellipse cx="10.500" cy="5.800" rx="3.300" ry="3.300" fill="#6e635c"/><ellipse cx="10.500" cy="7.600" rx="2.700" ry="3.300" fill="#c6a896"/><path d="M1 20C1 14.500 5 12 10.500 12.200C16 12 19 14.500 19 20Z" fill="#8e9895"/><path d="M8.800 11.500L10.500 14.500L12.200 11.500Z" fill="#c6a896"/></g></g></svg><svg style="left:372.1px;top:622.643px;" width="17.8" height="17.8" viewBox="0 0 20 20"><defs><clipPath id="av15"><circle cx="10" cy="10" r="10"/></clipPath></defs><g clip-path="url(#av15)"><rect width="20" height="20" fill="#5a2216"/><g filter="url(#bl)"><ellipse cx="10" cy="9.500" rx="8.300" ry="9" fill="#1b0d0a"/><ellipse cx="10" cy="11" rx="4.700" ry="5.800" fill="#f3d2bf"/><path d="M4.800 9.500C5.500 4.500 14.500 4.500 15.200 9.500C13 6.800 7 6.800 4.800 9.500Z" fill="#1b0d0a"/><ellipse cx="8" cy="10.200" rx="0.800" ry="0.400" fill="#3a2018"/><ellipse cx="12" cy="10.200" rx="0.800" ry="0.400" fill="#3a2018"/><ellipse cx="10" cy="14" rx="1.500" ry="0.600" fill="#cf6a62"/><path d="M3 20C4 17.500 7 17 10 17.500C13 17 16 17.500 17 20Z" fill="#6b2c22"/></g></g></svg><div class="abs" style="left:442.500px;top:627.543px;width:8px;height:8px;border-radius:50%;background:#f7962f;"></div><span class="t" style="left:458.5px;top:625.543px;font-size:12px;font-weight:400;color:#444;">In progress</span><span class="t" style="right:731.5px;top:625.543px;font-size:12px;font-weight:400;color:#444;">12d 6h</span><div class="abs" style="left:633.5px;top:626px;width:2px;height:2px;background:#707070;"></div><div class="abs" style="left:633.5px;top:631px;width:2px;height:2px;background:#707070;"></div><div class="abs" style="left:633.5px;top:636px;width:2px;height:2px;background:#707070;"></div><span class="t" style="left:87px;top:655.378px;font-size:12px;font-weight:400;color:#888;">3.3</span><span class="t" style="left:185px;top:655.378px;font-size:12px;font-weight:400;color:#444;">Required K…</span><svg style="left:60.2px;top:651.978px" width="18" height="18" viewBox="0 0 18 18"><g transform="translate(9 9) scale(1) rotate(45) translate(-3.400 -8.200)"><path d="M0.700 7V3.300A2.700 2.700 0 0 1 6.100 3.300V13.400A2.100 2.100 0 0 1 1.900 13.400V5A1.200 1.200 0 0 1 4.300 5V12" stroke="#747474" stroke-width="1.25" fill="none" stroke-linecap="round"/></g></svg><svg style="left:352.1px;top:652.478px;" width="17.8" height="17.8" viewBox="0 0 20 20"><defs><clipPath id="av16"><circle cx="10" cy="10" r="10"/></clipPath></defs><g clip-path="url(#av16)"><rect width="20" height="20" fill="#6f8238"/><g filter="url(#bl)"><circle cx="3" cy="8" r="3" fill="#c9b83a"/><circle cx="17" cy="6" r="3" fill="#b9b040"/><circle cx="16" cy="12" r="2.500" fill="#8fa040"/><ellipse cx="10" cy="8.500" rx="5.600" ry="6.500" fill="#6b4429"/><ellipse cx="10" cy="8.800" rx="3.400" ry="4.300" fill="#e9c5a6"/><path d="M6.600 7.500C7.500 3.800 12.500 3.800 13.400 7.500C12 5.800 8 5.800 6.600 7.500Z" fill="#7a5030"/><ellipse cx="10" cy="11" rx="1.500" ry="0.600" fill="#fff"/><path d="M0.500 20C0.500 15 5 13.600 10 14C15 13.600 19.500 15 19.500 20Z" fill="#171717"/><path d="M8.500 13L10 15.500L11.500 13Z" fill="#e9c5a6"/></g></g></svg><span class="t" style="left:376px;top:655.378px;font-size:12px;font-weight:400;color:#444;">Livia …</span><div class="abs" style="left:442.500px;top:657.378px;width:8px;height:8px;border-radius:50%;background:#f7962f;"></div><span class="t" style="left:458.5px;top:655.378px;font-size:12px;font-weight:400;color:#444;">In progress</span><span class="t" style="right:731.5px;top:655.378px;font-size:12px;font-weight:400;color:#444;">45d</span><div class="abs" style="left:633.5px;top:656px;width:2px;height:2px;background:#707070;"></div><div class="abs" style="left:633.5px;top:661px;width:2px;height:2px;background:#707070;"></div><div class="abs" style="left:633.5px;top:666px;width:2px;height:2px;background:#707070;"></div><div class="abs" style="left:50.5px;top:656px;width:2px;height:2px;background:#888;"></div><div class="abs" style="left:50.5px;top:661px;width:2px;height:2px;background:#888;"></div><div class="abs" style="left:50.5px;top:666px;width:2px;height:2px;background:#888;"></div><div class="abs" style="left:54.5px;top:656px;width:2px;height:2px;background:#888;"></div><div class="abs" style="left:54.5px;top:661px;width:2px;height:2px;background:#888;"></div><div class="abs" style="left:54.5px;top:666px;width:2px;height:2px;background:#888;"></div><svg style="left:267px;top:652.878px" width="17" height="17" viewBox="0 0 17 17"><circle cx="8.500" cy="8.500" r="7.700" stroke="#777" stroke-width="1.100" fill="none"/><path d="M8.500 7.500V12.500" stroke="#777" stroke-width="1.400"/><circle cx="8.500" cy="5" r="1" fill="#777"/></svg><svg style="left:295px;top:653.878px" width="13" height="15" viewBox="0 0 13 15"><path d="M3 0.500V7.300M3 12.200V14.500M10 0.500V2.500M10 7.200V14.500" stroke="#777" stroke-width="1.200"/><circle cx="3" cy="9.700" r="2.200" stroke="#777" stroke-width="1.200" fill="#f0f0f0"/><circle cx="10" cy="4.700" r="2.200" stroke="#777" stroke-width="1.200" fill="#f0f0f0"/></svg><svg style="left:321px;top:653.878px" width="12" height="15" viewBox="0 0 12 15"><path d="M0.500 3H11.500M4 3V1H8V3M1.700 3V14.300H10.300V3M4.500 6V11.500M7.500 6V11.500" stroke="#777" stroke-width="1.100" fill="none"/></svg><span class="t" style="left:87px;top:685.213px;font-size:12px;font-weight:400;color:#888;">3.4</span><span class="t" style="left:185px;top:685.213px;font-size:12px;font-weight:400;color:#444;">Required Team</span><svg style="left:352.1px;top:682.313px;" width="17.8" height="17.8" viewBox="0 0 20 20"><defs><clipPath id="av17"><circle cx="10" cy="10" r="10"/></clipPath></defs><g clip-path="url(#av17)"><rect width="20" height="20" fill="#f3f3f1"/><g filter="url(#bl)"><ellipse cx="10.800" cy="7.600" rx="3.900" ry="4.700" fill="#3a2920"/><path d="M12 8L15 14L11 13Z" fill="#3a2920"/><ellipse cx="10.600" cy="8.400" rx="2.400" ry="3.100" fill="#c89470"/><path d="M4 20C4 15 7 13.600 10.500 13.800C14 13.600 17 15 17 20Z" fill="#f1dcd6"/><path d="M9 12.500L10.500 16.500L12 12.500Z" fill="#c89470"/><path d="M16 10H20V18H16Z" fill="#bcd694"/></g></g></svg><span class="t" style="left:376px;top:685.213px;font-size:12px;font-weight:400;color:#444;">Sierra…</span><div class="abs" style="left:442.500px;top:687.213px;width:8px;height:8px;border-radius:50%;background:#9b9b9b;"></div><span class="t" style="left:458.5px;top:685.213px;font-size:12px;font-weight:400;color:#444;">Open</span><span class="t" style="right:731.5px;top:685.213px;font-size:12px;font-weight:400;color:#444;">48d</span><div class="abs" style="left:633.5px;top:685px;width:2px;height:2px;background:#707070;"></div><div class="abs" style="left:633.5px;top:690px;width:2px;height:2px;background:#707070;"></div><div class="abs" style="left:633.5px;top:695px;width:2px;height:2px;background:#707070;"></div><span class="t" style="left:184.5px;top:715.048px;font-size:12px;font-weight:400;color:#2b6fd0;letter-spacing:-0.070px;">Add a task</span><div class="abs" style="left:251px;top:715.048px;width:1px;height:13px;background:#2b6fd0;"></div><span class="t" style="left:260.5px;top:715.048px;font-size:12px;font-weight:400;color:#2b6fd0;letter-spacing:-0.071px;">Add a milestone</span><div class="abs" style="left:705px;top:150px;width:616px;height:6px;background:#9a9a9a;"></div><div class="abs" style="left:705px;top:150px;width:164px;height:6px;background:#5f5f5f;"></div><div class="abs" style="left:704px;top:148px;width:3px;height:11px;background:#8a8a8a;"></div><div class="abs" style="left:705px;top:190px;width:261px;height:5px;background:#9272d3;"></div><div class="abs" style="left:705px;top:190px;width:230px;height:5px;background:#5b3fb3;"></div><span class="t" style="left:711.5px;top:174.3px;font-size:12px;font-weight:700;color:#4a2f8c;">Market Research</span><div class="abs" style="left:812.2px;top:178.1px;width:1.2px;height:5.5px;background:#4a2f8c;"></div><span class="t" style="left:817.5px;top:174.3px;font-size:12px;font-weight:400;color:#4a2f8c;">07.12.21 - 07.04.22</span><div class="abs" style="left:705px;top:201.852px;width:19.5px;height:22px;background:#f2a641;border-radius:1.500px;overflow:hidden"></div><svg style="left:744.1px;top:203.952px;" width="17.8" height="17.8" viewBox="0 0 20 20"><defs><clipPath id="av18"><circle cx="10" cy="10" r="10"/></clipPath></defs><g clip-path="url(#av18)"><rect width="20" height="20" fill="#dfe4e7"/><g filter="url(#bl)"><rect x="7" y="0" width="7" height="20" fill="#eceff0"/><ellipse cx="10.500" cy="5.800" rx="3.300" ry="3.300" fill="#6e635c"/><ellipse cx="10.500" cy="7.600" rx="2.700" ry="3.300" fill="#c6a896"/><path d="M1 20C1 14.500 5 12 10.500 12.200C16 12 19 14.500 19 20Z" fill="#8e9895"/><path d="M8.800 11.500L10.500 14.500L12.200 11.500Z" fill="#c6a896"/></g></g></svg><div class="abs" style="left:775px;top:206.052px;width:1px;height:13.6px;background:#6e6e6e;"></div><span class="t" style="left:787px;top:206.852px;font-size:12px;font-weight:400;color:#808080;">Target Markets</span><div class="abs" style="left:725px;top:231.687px;width:72px;height:22px;background:#d65f5b;border-radius:1.500px;overflow:hidden"></div><svg style="left:816.6px;top:233.787px;" width="17.8" height="17.8" viewBox="0 0 20 20"><defs><clipPath id="av19"><circle cx="10" cy="10" r="10"/></clipPath></defs><g clip-path="url(#av19)"><rect width="20" height="20" fill="#5a2216"/><g filter="url(#bl)"><ellipse cx="10" cy="9.500" rx="8.300" ry="9" fill="#1b0d0a"/><ellipse cx="10" cy="11" rx="4.700" ry="5.800" fill="#f3d2bf"/><path d="M4.800 9.500C5.500 4.500 14.500 4.500 15.200 9.500C13 6.800 7 6.800 4.800 9.500Z" fill="#1b0d0a"/><ellipse cx="8" cy="10.200" rx="0.800" ry="0.400" fill="#3a2018"/><ellipse cx="12" cy="10.200" rx="0.800" ry="0.400" fill="#3a2018"/><ellipse cx="10" cy="14" rx="1.500" ry="0.600" fill="#cf6a62"/><path d="M3 20C4 17.500 7 17 10 17.500C13 17 16 17.500 17 20Z" fill="#6b2c22"/></g></g></svg><div class="abs" style="left:847px;top:235.887px;width:1px;height:13.6px;background:#6e6e6e;"></div><span class="t" style="left:859.5px;top:236.687px;font-size:12px;font-weight:400;color:#808080;">Target Customers</span><div class="abs" style="left:797px;top:261.522px;width:77.5px;height:22px;background:#cbe0f8;border-radius:1.500px;overflow:hidden"></div><svg style="left:894.1px;top:263.623px;opacity:0.4;" width="17.8" height="17.8" viewBox="0 0 20 20"><defs><clipPath id="av20"><circle cx="10" cy="10" r="10"/></clipPath></defs><g clip-path="url(#av20)"><rect width="20" height="20" fill="#6f8238"/><g filter="url(#bl)"><circle cx="3" cy="8" r="3" fill="#c9b83a"/><circle cx="17" cy="6" r="3" fill="#b9b040"/><circle cx="16" cy="12" r="2.500" fill="#8fa040"/><ellipse cx="10" cy="8.500" rx="5.600" ry="6.500" fill="#6b4429"/><ellipse cx="10" cy="8.800" rx="3.400" ry="4.300" fill="#e9c5a6"/><path d="M6.600 7.500C7.500 3.800 12.500 3.800 13.400 7.500C12 5.800 8 5.800 6.600 7.500Z" fill="#7a5030"/><ellipse cx="10" cy="11" rx="1.500" ry="0.600" fill="#fff"/><path d="M0.500 20C0.500 15 5 13.600 10 14C15 13.600 19.500 15 19.500 20Z" fill="#171717"/><path d="M8.500 13L10 15.500L11.500 13Z" fill="#e9c5a6"/></g></g></svg><div class="abs" style="left:924px;top:265.722px;width:1px;height:13.6px;background:#c0c0c0;"></div><span class="t" style="left:937px;top:266.522px;font-size:12px;font-weight:400;color:#bdbdbd;">Competitors Research</span><div class="abs" style="left:886px;top:291.358px;width:80px;height:22px;background:#4eb5ab;border-radius:1.500px;overflow:hidden"><div style="width:41px;height:22px;background:#467f7a"></div></div><svg style="left:985.6px;top:293.458px;" width="17.8" height="17.8" viewBox="0 0 20 20"><defs><clipPath id="av21"><circle cx="10" cy="10" r="10"/></clipPath></defs><g clip-path="url(#av21)"><rect width="20" height="20" fill="#d3dade"/><g filter="url(#bl)"><path d="M14 2H20V15H15Z" fill="#4a8fe2"/><path d="M0 9H5V14H0Z" fill="#b9c7ce"/><ellipse cx="9.500" cy="6.200" rx="3.900" ry="3.600" fill="#4e4a48"/><ellipse cx="9.500" cy="8" rx="3.500" ry="4.300" fill="#6e4c3c"/><ellipse cx="9.500" cy="10.500" rx="1.600" ry="0.600" fill="#e8e0dc"/><path d="M1.500 20C1.500 15 5 13 9.500 13.200C14 13 18 15 18 20Z" fill="#3a4157"/><path d="M7.300 13.200L9.500 19.500L11.700 13.200Z" fill="#f2f2f4"/><path d="M9 14.500L9.500 19.500L10 14.500Z" fill="#2a2f45"/></g></g></svg><div class="abs" style="left:1005.6px;top:293.458px;width:17.8px;height:17.8px;border-radius:50%;background:#9e9e9e;color:#fff;font-size:8px;font-weight:400;text-align:center;line-height:17.8px;">A</div><div class="abs" style="left:1036px;top:295.558px;width:1px;height:13.6px;background:#6e6e6e;"></div><span class="t" style="left:1048.5px;top:296.358px;font-size:12px;font-weight:400;color:#808080;">Similar Products Research</span><div class="abs" style="left:704px;top:369px;width:359px;height:5px;background:#9272d3;"></div><div class="abs" style="left:704px;top:369px;width:183px;height:5px;background:#5b3fb3;"></div><span class="t" style="left:710.5px;top:353.3px;font-size:12px;font-weight:700;color:#4a2f8c;">Product Concept</span><div class="abs" style="left:812.2px;top:357.1px;width:1.2px;height:5.5px;background:#4a2f8c;"></div><span class="t" style="left:817.5px;top:353.3px;font-size:12px;font-weight:400;color:#4a2f8c;">06.12.21 - 24.05.22</span><div class="abs" style="left:704px;top:380.863px;width:20px;height:22px;background:#3f8a98;border-radius:1.500px;overflow:hidden"></div><svg style="left:744.1px;top:382.963px;" width="17.8" height="17.8" viewBox="0 0 20 20"><defs><clipPath id="av23"><circle cx="10" cy="10" r="10"/></clipPath></defs><g clip-path="url(#av23)"><rect width="20" height="20" fill="#d3dade"/><g filter="url(#bl)"><path d="M14 2H20V15H15Z" fill="#4a8fe2"/><path d="M0 9H5V14H0Z" fill="#b9c7ce"/><ellipse cx="9.500" cy="6.200" rx="3.900" ry="3.600" fill="#4e4a48"/><ellipse cx="9.500" cy="8" rx="3.500" ry="4.300" fill="#6e4c3c"/><ellipse cx="9.500" cy="10.500" rx="1.600" ry="0.600" fill="#e8e0dc"/><path d="M1.500 20C1.500 15 5 13 9.500 13.200C14 13 18 15 18 20Z" fill="#3a4157"/><path d="M7.300 13.200L9.500 19.500L11.700 13.200Z" fill="#f2f2f4"/><path d="M9 14.500L9.500 19.500L10 14.500Z" fill="#2a2f45"/></g></g></svg><svg style="left:764.1px;top:382.963px;" width="17.8" height="17.8" viewBox="0 0 20 20"><defs><clipPath id="av24"><circle cx="10" cy="10" r="10"/></clipPath></defs><g clip-path="url(#av24)"><rect width="20" height="20" fill="#241e1b"/><g filter="url(#bl)"><ellipse cx="2.500" cy="11" rx="2.500" ry="4" fill="#8a7464"/><ellipse cx="17.500" cy="11" rx="2.500" ry="4" fill="#8a7464"/><ellipse cx="10" cy="9" rx="6.800" ry="7.800" fill="#1c1613"/><ellipse cx="10" cy="10.800" rx="4.600" ry="5.800" fill="#b58d76"/><path d="M5 9.500C5.500 4.500 14.500 4.500 15 9.500C13 7 7 7 5 9.500Z" fill="#1c1613"/><path d="M5.600 12.500C6.500 18 13.500 18 14.400 12.500C12.500 15 7.500 15 5.600 12.500Z" fill="#5c4136"/><ellipse cx="8" cy="10" rx="0.900" ry="0.500" fill="#2a1c16"/><ellipse cx="12" cy="10" rx="0.900" ry="0.500" fill="#2a1c16"/><path d="M2 20C3 17.800 7 17.500 10 17.800C13 17.500 17 17.800 18 20Z" fill="#3a2e28"/></g></g></svg><div class="abs" style="left:795px;top:385.062px;width:1px;height:13.6px;background:#6e6e6e;"></div><span class="t" style="left:807px;top:385.863px;font-size:12px;font-weight:400;color:#808080;">Stage 1</span><div class="abs" style="left:725px;top:410.698px;width:53px;height:22px;background:#a04fb5;border-radius:1.500px;overflow:hidden"></div><svg style="left:798.1px;top:412.798px;" width="17.8" height="17.8" viewBox="0 0 20 20"><defs><clipPath id="av25"><circle cx="10" cy="10" r="10"/></clipPath></defs><g clip-path="url(#av25)"><rect width="20" height="20" fill="#dfe4e7"/><g filter="url(#bl)"><rect x="7" y="0" width="7" height="20" fill="#eceff0"/><ellipse cx="10.500" cy="5.800" rx="3.300" ry="3.300" fill="#6e635c"/><ellipse cx="10.500" cy="7.600" rx="2.700" ry="3.300" fill="#c6a896"/><path d="M1 20C1 14.500 5 12 10.500 12.200C16 12 19 14.500 19 20Z" fill="#8e9895"/><path d="M8.800 11.500L10.500 14.500L12.200 11.500Z" fill="#c6a896"/></g></g></svg><svg style="left:818.1px;top:412.798px;" width="17.8" height="17.8" viewBox="0 0 20 20"><defs><clipPath id="av26"><circle cx="10" cy="10" r="10"/></clipPath></defs><g clip-path="url(#av26)"><rect width="20" height="20" fill="#f3f3f1"/><g filter="url(#bl)"><ellipse cx="10.800" cy="7.600" rx="3.900" ry="4.700" fill="#3a2920"/><path d="M12 8L15 14L11 13Z" fill="#3a2920"/><ellipse cx="10.600" cy="8.400" rx="2.400" ry="3.100" fill="#c89470"/><path d="M4 20C4 15 7 13.600 10.500 13.800C14 13.600 17 15 17 20Z" fill="#f1dcd6"/><path d="M9 12.500L10.500 16.500L12 12.500Z" fill="#c89470"/><path d="M16 10H20V18H16Z" fill="#bcd694"/></g></g></svg><div class="abs" style="left:848px;top:414.898px;width:1px;height:13.6px;background:#6e6e6e;"></div><span class="t" style="left:860.5px;top:415.698px;font-size:12px;font-weight:400;color:#808080;">Stage 2</span><div class="abs" style="left:778px;top:440.532px;width:130px;height:22px;background:#53c3d6;border-radius:1.500px;overflow:hidden"><div style="width:69.5px;height:22px;background:#448b9a"></div></div><svg style="left:927.6px;top:442.632px;" width="17.8" height="17.8" viewBox="0 0 20 20"><defs><clipPath id="av27"><circle cx="10" cy="10" r="10"/></clipPath></defs><g clip-path="url(#av27)"><rect width="20" height="20" fill="#241e1b"/><g filter="url(#bl)"><ellipse cx="2.500" cy="11" rx="2.500" ry="4" fill="#8a7464"/><ellipse cx="17.500" cy="11" rx="2.500" ry="4" fill="#8a7464"/><ellipse cx="10" cy="9" rx="6.800" ry="7.800" fill="#1c1613"/><ellipse cx="10" cy="10.800" rx="4.600" ry="5.800" fill="#b58d76"/><path d="M5 9.500C5.500 4.500 14.500 4.500 15 9.500C13 7 7 7 5 9.500Z" fill="#1c1613"/><path d="M5.600 12.500C6.500 18 13.500 18 14.400 12.500C12.500 15 7.500 15 5.600 12.500Z" fill="#5c4136"/><ellipse cx="8" cy="10" rx="0.900" ry="0.500" fill="#2a1c16"/><ellipse cx="12" cy="10" rx="0.900" ry="0.500" fill="#2a1c16"/><path d="M2 20C3 17.800 7 17.500 10 17.800C13 17.500 17 17.800 18 20Z" fill="#3a2e28"/></g></g></svg><div class="abs" style="left:959px;top:444.732px;width:1px;height:13.6px;background:#6e6e6e;"></div><span class="t" style="left:971px;top:445.532px;font-size:12px;font-weight:400;color:#808080;">Stage 3</span><div class="abs" style="left:919px;top:470.368px;width:144px;height:22px;background:#53c3d6;border-radius:1.500px;overflow:hidden"></div><svg style="left:1083.1px;top:472.468px;" width="17.8" height="17.8" viewBox="0 0 20 20"><defs><clipPath id="av28"><circle cx="10" cy="10" r="10"/></clipPath></defs><g clip-path="url(#av28)"><rect width="20" height="20" fill="#241e1b"/><g filter="url(#bl)"><ellipse cx="2.500" cy="11" rx="2.500" ry="4" fill="#8a7464"/><ellipse cx="17.500" cy="11" rx="2.500" ry="4" fill="#8a7464"/><ellipse cx="10" cy="9" rx="6.800" ry="7.800" fill="#1c1613"/><ellipse cx="10" cy="10.800" rx="4.600" ry="5.800" fill="#b58d76"/><path d="M5 9.500C5.500 4.500 14.500 4.500 15 9.500C13 7 7 7 5 9.500Z" fill="#1c1613"/><path d="M5.600 12.500C6.500 18 13.500 18 14.400 12.500C12.500 15 7.500 15 5.600 12.500Z" fill="#5c4136"/><ellipse cx="8" cy="10" rx="0.900" ry="0.500" fill="#2a1c16"/><ellipse cx="12" cy="10" rx="0.900" ry="0.500" fill="#2a1c16"/><path d="M2 20C3 17.800 7 17.500 10 17.800C13 17.500 17 17.800 18 20Z" fill="#3a2e28"/></g></g></svg><div class="abs" style="left:1114px;top:474.567px;width:1px;height:13.6px;background:#6e6e6e;"></div><span class="t" style="left:1126px;top:475.368px;font-size:12px;font-weight:400;color:#808080;">Stage 4</span><div class="abs" style="left:1053px;top:500.703px;width:21px;height:21px;background:#d860bd;transform:rotate(45deg)"></div><div class="abs" style="left:1094.1px;top:502.303px;width:17.8px;height:17.8px;border-radius:50%;background:#9e9e9e;color:#fff;font-size:8px;font-weight:400;text-align:center;line-height:17.8px;">A</div><div class="abs" style="left:1125px;top:504.403px;width:1px;height:13.6px;background:#6e6e6e;"></div><span class="t" style="left:1137.5px;top:505.203px;font-size:12px;font-weight:400;color:#808080;">Report</span><div class="abs" style="left:809px;top:578px;width:359px;height:5px;background:#9272d3;"></div><div class="abs" style="left:809px;top:578px;width:187px;height:5px;background:#5b3fb3;"></div><span class="t" style="left:815px;top:562.3px;font-size:12px;font-weight:700;color:#4a2f8c;">Features &amp; Functions</span><div class="abs" style="left:942.2px;top:566.1px;width:1.2px;height:5.5px;background:#4a2f8c;"></div><span class="t" style="left:948px;top:562.3px;font-size:12px;font-weight:400;color:#4a2f8c;">26.01.22 - 11.07.22</span><div class="abs" style="left:809px;top:589.708px;width:18.5px;height:22px;background:#3f8a98;border-radius:1.500px;overflow:hidden"></div><div class="abs" style="left:847.6px;top:591.808px;width:17.8px;height:17.8px;border-radius:50%;background:#6b6b6b;color:#fff;font-size:8px;font-weight:400;text-align:center;line-height:17.8px;"><b style="font-size:9.500px;position:relative;top:-0.800px">c</b></div><div class="abs" style="left:878px;top:593.908px;width:1px;height:13.6px;background:#6e6e6e;"></div><span class="t" style="left:890.5px;top:594.708px;font-size:12px;font-weight:400;color:#808080;">Required Materials</span><div class="abs" style="left:827.5px;top:619.543px;width:46px;height:22px;background:#bfc93c;border-radius:1.500px;overflow:hidden"><div style="width:26.5px;height:22px;background:#777c2c"></div></div><svg style="left:893.1px;top:621.643px;" width="17.8" height="17.8" viewBox="0 0 20 20"><defs><clipPath id="av31"><circle cx="10" cy="10" r="10"/></clipPath></defs><g clip-path="url(#av31)"><rect width="20" height="20" fill="#dfe4e7"/><g filter="url(#bl)"><rect x="7" y="0" width="7" height="20" fill="#eceff0"/><ellipse cx="10.500" cy="5.800" rx="3.300" ry="3.300" fill="#6e635c"/><ellipse cx="10.500" cy="7.600" rx="2.700" ry="3.300" fill="#c6a896"/><path d="M1 20C1 14.500 5 12 10.500 12.200C16 12 19 14.500 19 20Z" fill="#8e9895"/><path d="M8.800 11.500L10.500 14.500L12.200 11.500Z" fill="#c6a896"/></g></g></svg><svg style="left:913.1px;top:621.643px;" width="17.8" height="17.8" viewBox="0 0 20 20"><defs><clipPath id="av32"><circle cx="10" cy="10" r="10"/></clipPath></defs><g clip-path="url(#av32)"><rect width="20" height="20" fill="#5a2216"/><g filter="url(#bl)"><ellipse cx="10" cy="9.500" rx="8.300" ry="9" fill="#1b0d0a"/><ellipse cx="10" cy="11" rx="4.700" ry="5.800" fill="#f3d2bf"/><path d="M4.800 9.500C5.500 4.500 14.500 4.500 15.200 9.500C13 6.800 7 6.800 4.800 9.500Z" fill="#1b0d0a"/><ellipse cx="8" cy="10.200" rx="0.800" ry="0.400" fill="#3a2018"/><ellipse cx="12" cy="10.200" rx="0.800" ry="0.400" fill="#3a2018"/><ellipse cx="10" cy="14" rx="1.500" ry="0.600" fill="#cf6a62"/><path d="M3 20C4 17.500 7 17 10 17.500C13 17 16 17.500 17 20Z" fill="#6b2c22"/></g></g></svg><div class="abs" style="left:944px;top:623.743px;width:1px;height:13.6px;background:#6e6e6e;"></div><span class="t" style="left:956.5px;top:624.543px;font-size:12px;font-weight:400;color:#808080;">Required Methods</span><div class="abs" style="left:875.5px;top:649.378px;width:146px;height:22px;background:#53c3d6;border-radius:1.500px;overflow:hidden"><div style="width:73.5px;height:22px;background:#448b9a"></div></div><svg style="left:1041.6px;top:651.478px;" width="17.8" height="17.8" viewBox="0 0 20 20"><defs><clipPath id="av33"><circle cx="10" cy="10" r="10"/></clipPath></defs><g clip-path="url(#av33)"><rect width="20" height="20" fill="#6f8238"/><g filter="url(#bl)"><circle cx="3" cy="8" r="3" fill="#c9b83a"/><circle cx="17" cy="6" r="3" fill="#b9b040"/><circle cx="16" cy="12" r="2.500" fill="#8fa040"/><ellipse cx="10" cy="8.500" rx="5.600" ry="6.500" fill="#6b4429"/><ellipse cx="10" cy="8.800" rx="3.400" ry="4.300" fill="#e9c5a6"/><path d="M6.600 7.500C7.500 3.800 12.500 3.800 13.400 7.500C12 5.800 8 5.800 6.600 7.500Z" fill="#7a5030"/><ellipse cx="10" cy="11" rx="1.500" ry="0.600" fill="#fff"/><path d="M0.500 20C0.500 15 5 13.600 10 14C15 13.600 19.500 15 19.500 20Z" fill="#171717"/><path d="M8.500 13L10 15.500L11.500 13Z" fill="#e9c5a6"/></g></g></svg><div class="abs" style="left:1072px;top:653.578px;width:1px;height:13.6px;background:#6e6e6e;"></div><span class="t" style="left:1084.5px;top:654.378px;font-size:12px;font-weight:400;color:#808080;">Required Know-How</span><div class="abs" style="left:1021.5px;top:679.213px;width:146.5px;height:22px;background:#bfc93c;border-radius:1.500px;overflow:hidden"></div><svg style="left:1187.6px;top:681.313px;" width="17.8" height="17.8" viewBox="0 0 20 20"><defs><clipPath id="av34"><circle cx="10" cy="10" r="10"/></clipPath></defs><g clip-path="url(#av34)"><rect width="20" height="20" fill="#f3f3f1"/><g filter="url(#bl)"><ellipse cx="10.800" cy="7.600" rx="3.900" ry="4.700" fill="#3a2920"/><path d="M12 8L15 14L11 13Z" fill="#3a2920"/><ellipse cx="10.600" cy="8.400" rx="2.400" ry="3.100" fill="#c89470"/><path d="M4 20C4 15 7 13.600 10.500 13.800C14 13.600 17 15 17 20Z" fill="#f1dcd6"/><path d="M9 12.500L10.500 16.500L12 12.500Z" fill="#c89470"/><path d="M16 10H20V18H16Z" fill="#bcd694"/></g></g></svg><div class="abs" style="left:1218px;top:683.413px;width:1px;height:13.6px;background:#6e6e6e;"></div><span class="t" style="left:1230.5px;top:684.213px;font-size:12px;font-weight:400;color:#808080;">Required Team</span><div class="abs" style="left:958.5px;top:294.8px;width:16.600px;height:16.600px;border-radius:50%;background:#fff"></div><svg style="left:959.6px;top:293.8px" width="12" height="18" viewBox="0 0 12 18"><path d="M9.300 0.300C8.200 3 8.600 5 10 7.500C11.300 9.800 11.800 11 11.600 12.600C11.200 15.600 8.900 17.600 6 17.600C2.800 17.600 0.400 15.300 0.400 12C0.400 9 1.600 6.800 2.600 4.600C2.900 6.600 3.200 8.200 3.700 9.600C4.400 5.500 6.500 2.300 9.300 0.300Z" fill="#e74c3c"/></svg><div class="abs" style="left:1133.5px;top:503.7px;width:16.600px;height:16.600px;border-radius:50%;background:#fff"></div><svg style="left:1134.6px;top:502.7px" width="12" height="18" viewBox="0 0 12 18"><path d="M9.300 0.300C8.200 3 8.600 5 10 7.500C11.300 9.800 11.800 11 11.600 12.600C11.200 15.600 8.900 17.600 6 17.600C2.800 17.600 0.400 15.300 0.400 12C0.400 9 1.600 6.800 2.600 4.600C2.900 6.600 3.200 8.200 3.700 9.600C4.400 5.500 6.500 2.300 9.300 0.300Z" fill="#e74c3c"/></svg><svg style="left:0;top:0" width="1335" height="779"><path d="M724.5 212.852 L736.5 212.852 L736.5 228.2 L713 228.2 L713 242.687 L721 242.687" stroke="#f5c06e" stroke-width="1.800" fill="none"/><path d="M722.8 242.687L718.2 239.687L718.2 245.687Z" fill="#f5c06e"/></svg><svg style="left:0;top:0" width="1335" height="779"><path d="M797 242.687 L809 242.687 L809 258.2 L785 258.2 L785 272.522 L793 272.522" stroke="#f5c06e" stroke-width="1.800" fill="none"/><path d="M794.8 272.522L790.2 269.522L790.2 275.522Z" fill="#f5c06e"/></svg><svg style="left:0;top:0" width="1335" height="779"><path d="M724 391.863 L736 391.863 L736 407.2 L713 407.2 L713 421.698 L721 421.698" stroke="#f5c06e" stroke-width="1.800" fill="none"/><path d="M722.8 421.698L718.2 418.698L718.2 424.698Z" fill="#f5c06e"/></svg><svg style="left:0;top:0" width="1335" height="779"><path d="M778 421.698 L790 421.698 L790 437.2 L766 437.2 L766 451.532 L774 451.532" stroke="#f5c06e" stroke-width="1.800" fill="none"/><path d="M775.8 451.532L771.2 448.532L771.2 454.532Z" fill="#f5c06e"/></svg><svg style="left:0;top:0" width="1335" height="779"><path d="M908 451.532 L920 451.532 L920 467.2 L907 467.2 L907 481.368 L915 481.368" stroke="#6f6ac6" stroke-width="1.800" fill="none"/><path d="M916.8 481.368L912.2 478.368L912.2 484.368Z" fill="#6f6ac6"/></svg><svg style="left:0;top:0" width="1335" height="779"><path d="M1063 481.368 L1075 481.368 L1075 497.2 L1036 497.2 L1036 511.203 L1044 511.203" stroke="#f5c06e" stroke-width="1.800" fill="none"/><path d="M1045.8 511.203L1041.2 508.203L1041.2 514.203Z" fill="#f5c06e"/></svg><svg style="left:0;top:0" width="1335" height="779"><path d="M827.5 600.708 L839.5 600.708 L839.5 616.2 L815.5 616.2 L815.5 630.543 L823.5 630.543" stroke="#f5c06e" stroke-width="1.800" fill="none"/><path d="M825.3 630.543L820.7 627.543L820.7 633.543Z" fill="#f5c06e"/></svg><svg style="left:0;top:0" width="1335" height="779"><path d="M873.5 630.543 L885.5 630.543 L885.5 646.2 L863.5 646.2 L863.5 660.378 L871.5 660.378" stroke="#6f6ac6" stroke-width="1.800" fill="none"/><path d="M873.3 660.378L868.7 657.378L868.7 663.378Z" fill="#6f6ac6"/></svg><svg style="left:0;top:0" width="1335" height="779"><path d="M1021.5 660.378 L1033.5 660.378 L1033.5 676.2 L1009.5 676.2 L1009.5 690.213 L1017.5 690.213" stroke="#f5c06e" stroke-width="1.800" fill="none"/><path d="M1019.3 690.213L1014.7 687.213L1014.7 693.213Z" fill="#f5c06e"/></svg><svg style="left:0;top:0" width="1335" height="779"><path d="M705 190.8 L692 190.8 L692 370.5 L700 370.5" stroke="#f5c06e" stroke-width="1.800" fill="none"/><path d="M701.8 370.5L697.2 367.5L697.2 373.5Z" fill="#f5c06e"/></svg><div class="abs" style="left:659px;top:401px;width:17.5px;height:31.5px;background:#bebebe;"></div><svg style="left:663.300px;top:411.300px" width="9" height="10" viewBox="0 0 9 10"><path d="M7.200 1.200V8.200L1.400 4.700Z" stroke="#fff" stroke-width="1.200" fill="none" stroke-linejoin="round"/></svg><div class="abs" style="left:959px;top:716px;width:92px;height:17px;background:#bdbdbd;"></div><svg style="left:969px;top:721px" width="10" height="8" viewBox="0 0 10 8"><path d="M5 1.200L8.800 6.800H1.200Z" stroke="#fff" stroke-width="1.200" fill="none" stroke-linejoin="round"/></svg><span class="t" style="left:989px;top:719.6px;font-size:12px;font-weight:400;color:#fff;letter-spacing:0.066px;">Workload</span><div class="abs" style="left:1321px;top:100px;width:12px;height:633px;background:#fff;"></div><svg style="left:60px;top:758px" width="18" height="17" viewBox="0 0 18 17"><path d="M0.600 0.600H17.400V12.400H8.500L5.500 15.500V12.400H0.600Z" stroke="#666" stroke-width="1.100" fill="none" stroke-linejoin="round"/><path d="M3.500 4.500H14.500M3.500 6.500H14.500M3.500 8.500H11" stroke="#707070" stroke-width="0.900"/></svg><span class="t" style="left:85.5px;top:759.15px;font-size:12.5px;font-weight:400;color:#555;letter-spacing:-0.492px;">Comments</span><div class="abs" style="left:151.5px;top:756.5px;width:1px;height:17px;background:#d6d6d6;"></div><svg style="left:164.3px;top:756.4px" width="18" height="18" viewBox="0 0 18 18"><g transform="translate(9 9) scale(1.15) rotate(45) translate(-3.400 -8.200)"><path d="M0.700 7V3.300A2.700 2.700 0 0 1 6.100 3.300V13.400A2.100 2.100 0 0 1 1.900 13.400V5A1.200 1.200 0 0 1 4.300 5V12" stroke="#707070" stroke-width="1.1" fill="none" stroke-linecap="round"/></g></svg><span class="t" style="left:188px;top:759.15px;font-size:12.5px;font-weight:400;color:#555;letter-spacing:-0.317px;">Attachments</span><div class="abs" style="left:264px;top:756.5px;width:1px;height:17px;background:#d6d6d6;"></div><svg style="left:274px;top:757px" width="15" height="17" viewBox="0 0 15 17"><circle cx="7.500" cy="9.500" r="6.700" stroke="#666" stroke-width="1.100" fill="none"/><path d="M5 0.800H10M7.500 5.500V9.500" stroke="#666" stroke-width="1.200"/></svg><span class="t" style="left:295.5px;top:759.15px;font-size:12.5px;font-weight:400;color:#555;letter-spacing:-0.351px;">Task time tracker</span><span class="t" style="left:936.5px;top:759.15px;font-size:12.5px;font-weight:400;color:#555;letter-spacing:-0.378px;">Get Apps:</span><svg style="left:997px;top:757.500px" width="15" height="16" viewBox="0 0 15 16"><path d="M0.600 0.300L14.600 8L0.600 15.700Z" fill="#7a7a7a"/><path d="M0.600 0.300L10.500 11M0.600 15.700L10.500 5" stroke="#f6f6f6" stroke-width="0.800"/></svg><svg style="left:1021.500px;top:756px" width="16" height="19" viewBox="0 0 16 19"><path d="M11 4.600C9.500 4.600 8.800 5.400 7.800 5.400C6.800 5.400 5.900 4.600 4.600 4.600C2.500 4.600 0.500 6.500 0.500 9.800C0.500 13.500 3 17.800 4.900 17.800C5.900 17.800 6.500 17.100 7.800 17.100C9.100 17.100 9.500 17.800 10.700 17.800C12.500 17.800 14.300 14.800 14.900 13C13.300 12.300 12.400 11 12.400 9.300C12.400 7.800 13.200 6.700 14.400 6C13.600 5 12.300 4.600 11 4.600ZM10.800 0.500C9.200 0.700 7.700 2.300 7.900 4C9.500 4 11 2.400 10.800 0.500Z" fill="#777"/></svg><div class="abs" style="left:1050px;top:756.5px;width:1px;height:17px;background:#d6d6d6;"></div><svg style="left:1062.500px;top:757px" width="18" height="17" viewBox="0 0 18 17"><path d="M3.600 0.600H17.400V13.400H3.600Z" stroke="#666" stroke-width="1.100" fill="none"/><path d="M0.600 3.500V16.400H14.500" stroke="#666" stroke-width="1.100" fill="none"/><path d="M8.500 4L13 7L8.500 10Z" stroke="#666" stroke-width="1" fill="#666" stroke-linejoin="round"/></svg><span class="t" style="left:1088.5px;top:759.15px;font-size:12.5px;font-weight:400;color:#555;letter-spacing:-0.417px;">Videos</span><div class="abs" style="left:1134px;top:756.5px;width:1px;height:17px;background:#d6d6d6;"></div><svg style="left:1148px;top:756.500px" width="16" height="19" viewBox="0 0 16 19"><path d="M1.500 0H14.500A1.500 1.500 0 0 1 16 1.500V14A1.500 1.500 0 0 1 14.500 15.500H10L8 18.500L6 15.500H1.500A1.500 1.500 0 0 1 0 14V1.500A1.500 1.500 0 0 1 1.500 0Z" fill="#1f5c4c"/><path d="M5.300 5.500C5.300 2.500 10.700 2.500 10.700 5.500C10.700 7.500 8 7.500 8 10" stroke="#fff" stroke-width="1.700" fill="none"/><rect x="7.100" y="11.500" width="1.800" height="1.900" fill="#fff"/></svg><span class="t" style="left:1172.5px;top:759.15px;font-size:12.5px;font-weight:400;color:#555;letter-spacing:-0.425px;">Learning center</span><div class="abs" style="left:1262.5px;top:756.5px;width:1px;height:17px;background:#d6d6d6;"></div><span class="t" style="left:1277.5px;top:759.15px;font-size:12.5px;font-weight:400;color:#555;letter-spacing:-0.392px;">Live chat</span></div></body></html>
